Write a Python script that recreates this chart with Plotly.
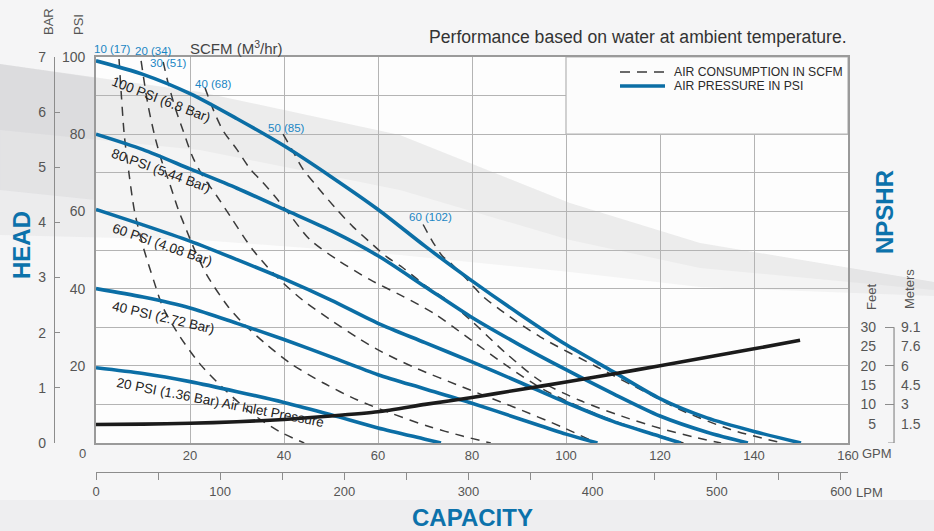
import plotly.graph_objects as go

# ---------------- data (GPM, PSI / feet) ----------------
gpm_ticks = [0, 20, 40, 60, 80, 100, 120, 140, 160]
psi_grid = [0, 10, 20, 30, 40, 50, 60, 70, 80, 90, 100]
psi_labels = ["", "", "20", "", "40", "", "60", "", "80", "", "100"]
bar_ticks = [0, 1, 2, 3, 4, 5, 6, 7]
lpm_ticks = [0, 100, 200, 300, 400, 500, 600]
lpm_minor = [50, 150, 250, 350, 450, 550]
feet_ticks = [5, 10, 15, 20, 25, 30]
meter_labels = ["1.5", "3", "4.5", "6", "7.6", "9.1"]
meter_mark_feet = [10, 20, 30]

# air pressure curves (GPM, PSI head)
p100_x = [0, 10, 20, 30, 40, 50, 60, 70, 80, 90, 100, 110, 120, 130, 140, 150]
p100_y = [99, 95.5, 90.5, 84, 77, 69, 60.5, 51, 42, 33.5, 25.5, 18.5, 11.5, 6.5, 3, 0]
p80_x = [0, 10, 20, 30, 40, 50, 60, 70, 80, 90, 100, 110, 120, 130, 138.7]
p80_y = [80, 76, 71, 66, 60.5, 55, 48.5, 40.5, 32.5, 25.5, 19, 12.8, 7, 2.8, 0]
p60_x = [0, 10, 20, 30, 40, 50, 60, 70, 80, 90, 100, 110, 120, 124.4]
p60_y = [60.5, 56.5, 52.3, 47.5, 42.5, 37, 31, 26, 21, 15.8, 10.5, 5.6, 1.7, 0]
p40_x = [0, 10, 20, 30, 40, 50, 60, 70, 80, 90, 100, 106.7]
p40_y = [40, 37.8, 35, 31, 26.8, 22.3, 17.7, 14, 10.3, 6.3, 2.3, 0]
p20_x = [0, 10, 20, 30, 40, 50, 60, 70, 73.4]
p20_y = [19.5, 18, 15.9, 13.3, 10.5, 7.3, 3.9, 1, 0]

pressure_names = ["100 PSI (6.8 Bar)", "80 PSI (5.44 Bar)", "60 PSI (4.08 Bar)",
                  "40 PSI (2.72 Bar)", "20 PSI (1.36 Bar) Air Inlet Pressure"]

# air consumption curves (SCFM)
s10_x = [4.9, 5.4, 6, 7, 8.2, 10, 12.3, 14.3, 17.9, 22.1, 27.5, 33, 39, 44.3]
s10_y = [99.5, 90, 80, 70, 60, 51, 42, 35, 27.5, 20.5, 13.7, 7.8, 3, 0]
s20_x = [9.6, 11, 12.5, 14, 15.6, 17.5, 19.3, 21, 23.6, 28, 31.3, 36, 41.3, 48.3, 55.5, 62.6, 71, 78, 84]
s20_y = [99, 88, 79.5, 73, 67.5, 60.5, 55, 50, 43.5, 35.5, 31, 25.8, 20.7, 15.6, 11.2, 7.8, 4.2, 1.8, 0]
s30_x = [14.3, 15.3, 16.8, 18.5, 20.6, 22.8, 25.7, 28.8, 33.4, 38.5, 44, 49.8, 56, 61, 67.5, 78, 88.7, 99.4, 106.5]
s30_y = [98.7, 93.5, 87, 81, 74, 69, 64, 58.3, 50, 43, 37, 32, 27, 23.5, 19.7, 14.5, 9.4, 4.0, 0]
s40_x = [23.2, 24.9, 27, 30, 32.8, 35.5, 38, 41.3, 45.5, 51.3, 58.3, 65.3, 72, 80, 88, 95, 103, 110, 118, 125]
s40_y = [92, 86.5, 81, 76, 71, 67.5, 64, 59, 52.7, 47.5, 42.3, 38, 33.5, 26.5, 19.5, 14, 9.3, 5.8, 2.6, 0]
s50_x = [39.8, 41.7, 44, 47, 51.2, 54.7, 58.3, 61.8, 65.3, 70.4, 74.7, 80, 87, 94.5, 103, 112, 120, 127, 133]
s50_y = [80, 76, 71, 66.5, 60.5, 56, 52, 48.3, 45.4, 40.5, 37, 31.5, 23.5, 16.1, 11, 6.9, 3.8, 1.6, 0]
s60_x = [69.6, 71.7, 73.8, 75.3, 78.9, 82.3, 86, 94.5, 106.6, 117.2, 124.3, 135, 146]
s60_y = [56.6, 52, 48.3, 46.8, 42.4, 38, 34.5, 27.5, 19.7, 13, 8.6, 3.5, 0]
scfm_labels = ["10 (17)", "20 (34)", "30 (51)", "40 (68)", "50 (85)", "60 (102)"]

# NPSHR (GPM, feet)
npshr_x = [0, 10, 20, 30, 40, 50, 60, 70, 80, 90, 100, 110, 120, 130, 140, 149.8]
npshr_y = [4.8, 4.9, 5.1, 5.5, 6.1, 7, 8.1, 10, 11.8, 13.8, 15.8, 17.9, 20, 22.2, 24.4, 26.6]

# ---------------- layout helpers (pixel -> paper) ----------------
W, H = 934, 531
PL, PR, PT, PB = 96, 848, 57, 443
ML, MR, MT, MB = 30, 30, 57, 40
pw, ph = W - ML - MR, H - MT - MB


def fx(x):
    return (x - ML) / pw


def fy(y):
    return (H - MB - y) / ph


FONT = "Liberation Sans, Arial, Helvetica, sans-serif"
BLUE = "#0b6ea5"
LBLUE = "#1a86c4"
TBLUE = "#0c72ab"
GRID = "#b4b4b4"
AX = "#8c8c8c"
TXT = "#555555"

fig = go.Figure()

# air consumption (dashed)
for xs, ys in [(s10_x, s10_y), (s20_x, s20_y), (s30_x, s30_y),
               (s40_x, s40_y), (s50_x, s50_y), (s60_x, s60_y)]:
    fig.add_trace(go.Scatter(x=xs, y=ys, mode="lines", showlegend=False, hoverinfo="skip",
                             line=dict(color="#3a3a3a", width=1.5, dash="9px,7px",
                                       shape="spline", smoothing=0.8)))

# air pressure (blue)
for xs, ys in [(p100_x, p100_y), (p80_x, p80_y), (p60_x, p60_y),
               (p40_x, p40_y), (p20_x, p20_y)]:
    fig.add_trace(go.Scatter(x=xs, y=ys, mode="lines", showlegend=False, hoverinfo="skip",
                             line=dict(color=BLUE, width=3.6, shape="spline", smoothing=0.8)))

# NPSHR on feet axis
fig.add_trace(go.Scatter(x=npshr_x, y=npshr_y, yaxis="y3", mode="lines", showlegend=False,
                         hoverinfo="skip",
                         line=dict(color="#1b1b1b", width=3.6, shape="spline", smoothing=0.6)))

# empty traces so the secondary scales get drawn
fig.add_trace(go.Scatter(x=[None], y=[None], yaxis="y2", showlegend=False, hoverinfo="skip"))
fig.add_trace(go.Scatter(x=[None], y=[None], yaxis="y4", showlegend=False, hoverinfo="skip"))
fig.add_trace(go.Scatter(x=[None], y=[None], xaxis="x2", showlegend=False, hoverinfo="skip"))

shapes = []


def poly(pts):
    return "M " + " L ".join(f"{fx(a):.4f},{fy(b):.4f}" for a, b in pts) + " Z"


# background swoosh (decoration)
swoosh_up = [(0, 64), (200, 92), (400, 135), (570, 203), (700, 243), (934, 282)]
shapes.append(dict(type="path", xref="paper", yref="paper", layer="below",
                   path=poly(swoosh_up + [(934, 296), (700, 287), (570, 272), (400, 255), (200, 240), (0, 235)]),
                   fillcolor="rgba(150,150,156,0.09)", line=dict(width=0)))
shapes.append(dict(type="path", xref="paper", yref="paper", layer="below",
                   path=poly(swoosh_up + [(934, 290), (700, 268), (570, 240), (400, 190), (200, 150), (0, 130)]),
                   fillcolor="rgba(150,150,156,0.08)", line=dict(width=0)))
shapes.append(dict(type="path", xref="paper", yref="paper", layer="below",
                   path=poly([(0, 64), (96, 78), (96, 200), (0, 190)]),
                   fillcolor="rgba(150,150,156,0.10)", line=dict(width=0)))
shapes.append(dict(type="rect", xref="paper", yref="paper", layer="below",
                   x0=fx(0), x1=fx(W), y0=fy(H), y1=fy(500),
                   fillcolor="rgba(170,172,178,0.08)", line=dict(width=0)))

# legend box (covers grid)
shapes.append(dict(type="rect", xref="x", yref="y", layer="between", x0=100, x1=160, y0=80, y1=100,
                   fillcolor="#fcfcfc", line=dict(color=GRID, width=1.2)))
# legend samples
shapes.append(dict(type="line", xref="paper", yref="paper", x0=fx(620), x1=fx(665), y0=fy(72), y1=fy(72),
                   line=dict(color="#3a3a3a", width=1.6, dash="10px,7px")))
shapes.append(dict(type="line", xref="paper", yref="paper", x0=fx(620), x1=fx(665), y0=fy(86), y1=fy(86),
                   line=dict(color=BLUE, width=3.6)))
# NPSHR bracket
shapes.append(dict(type="path", xref="paper", yref="y3",
                   path=f"M {fx(894):.4f},{feet_ticks[-1]} L {fx(894):.4f},0 L {fx(888):.4f},0",
                   line=dict(color=AX, width=1.2)))

ann = []


def txt(x, y, s, size=13, color=TXT, xanchor="center", angle=0, bold=False, xref="paper", yref="paper"):
    if bold:
        s = "<b>" + s + "</b>"
    ann.append(dict(x=x, y=y, xref=xref, yref=yref, text=s, showarrow=False, textangle=angle,
                    xanchor=xanchor, yanchor="middle", font=dict(family=FONT, size=size, color=color)))


txt(fx(427), fy(37), "Performance based on water at ambient temperature.", 17.6, "#333333", "left")
txt(fx(236), fy(48), "SCFM (M<sup>3</sup>/hr)", 15, "#444444")
txt(fx(48), fy(22), "BAR", 13, TXT, angle=-90)
txt(fx(78), fy(25), "PSI", 13, TXT, angle=-90)
txt(fx(21), fy(245), "HEAD", 24, TBLUE, angle=-90, bold=True)
txt(fx(885), fy(212), "NPSHR", 24, TBLUE, angle=-90, bold=True)
txt(fx(472), fy(517), "CAPACITY", 24, TBLUE, bold=True)
txt(fx(871), fy(297), "Feet", 13, TXT, angle=-90)
txt(fx(909), fy(289), "Meters", 13, TXT, angle=-90)
txt(fx(82), fy(453), "0", 13, TXT)
txt(fx(860), fy(453), "GPM", 13, TXT, "left")
txt(fx(854), fy(492), "LPM", 13, TXT, "left")
txt(fx(672), fy(72), "AIR CONSUMPTION IN SCFM", 12.2, "#2b2b2b", "left")
txt(fx(672), fy(86), "AIR PRESSURE IN PSI", 12.2, "#2b2b2b", "left")

# SCFM labels: x on the GPM scale, y as page position (some sit above the frame)
for (gx, py_), s in zip([(3.6, 49), (12.3, 51), (15.4, 63), (24.9, 84), (40.6, 128), (71.1, 217)],
                        scfm_labels):
    txt(gx, fy(py_), s, 11.5, LBLUE, xref="x", yref="paper")

# pressure curve labels
for (gx, gy, a), s in zip([(13.8, 89.0, 21), (13.8, 70.6, 20), (14.0, 51.3, 19), (14.3, 32.4, 13), (26.4, 10.6, 11)],
                          pressure_names):
    txt(gx, gy, s, 13.5, "#222222", angle=a, xref="x", yref="y")

fig.update_layout(
    width=W, height=H, margin=dict(l=ML, r=MR, t=MT, b=MB, autoexpand=False),
    paper_bgcolor="#f5f5f6", plot_bgcolor="#fdfdfd",
    font=dict(family=FONT, size=13, color=TXT),
    showlegend=False, shapes=shapes, annotations=ann,
    xaxis=dict(domain=[fx(PL), fx(PR)], range=[0, 160], tickvals=gpm_ticks,
               ticktext=[""] + [str(v) for v in gpm_ticks[1:]], ticks="",
               showgrid=True, gridcolor=GRID, gridwidth=1.2, zeroline=False,
               showline=True, linecolor="#9a9a9a", linewidth=1.6, mirror=True,
               tickfont=dict(size=13, color=TXT), automargin=False, fixedrange=True),
    yaxis=dict(domain=[fy(PB), fy(PT)], range=[0, 100], tickvals=psi_grid, ticktext=psi_labels,
               ticks="", showgrid=True, gridcolor=GRID, gridwidth=1.2, zeroline=False,
               showline=True, linecolor="#9a9a9a", linewidth=1.6, mirror=True,
               ticklabelstandoff=6, tickfont=dict(size=14, color=TXT), automargin=False),
    xaxis2=dict(overlaying="x", anchor="free", position=fy(472), side="bottom",
                range=[0, 160 * 3.78541], tickvals=lpm_ticks,
                ticktext=[str(v) for v in lpm_ticks], ticks="outside", ticklen=7, tickcolor=AX,
                minor=dict(tickvals=lpm_minor, ticks="outside", ticklen=7, tickcolor=AX),
                showline=True, linecolor=AX, linewidth=1.2, showgrid=False, zeroline=False,
                tickfont=dict(size=13, color=TXT), automargin=False),
    yaxis2=dict(overlaying="y", anchor="free", position=fx(54), side="left",
                range=[0, 7], tickvals=bar_ticks, ticks="inside", ticklen=5, tickcolor=AX,
                showline=True, linecolor=AX, linewidth=1.2, showgrid=False, zeroline=False,
                ticklabelstandoff=5, tickfont=dict(size=14, color=TXT), automargin=False),
    yaxis3=dict(overlaying="y", anchor="free", position=fx(876), side="left",
                range=[0, 100], tickvals=feet_ticks, ticks="", showline=False,
                showgrid=False, zeroline=False, tickfont=dict(size=14, color=TXT), automargin=False),
    yaxis4=dict(overlaying="y", anchor="free", position=fx(894), side="right",
                range=[0, 100 * 0.3048], tickvals=[f * 0.3048 for f in feet_ticks],
                ticktext=meter_labels, ticks="", showline=False, showgrid=False, zeroline=False,
                minor=dict(tickvals=[f * 0.3048 for f in meter_mark_feet], ticks="inside",
                           ticklen=9, tickcolor=AX, tickwidth=1.2),
                ticklabelstandoff=6, tickfont=dict(size=14, color=TXT), automargin=False),
)

fig.write_html("out.html", config={"displayModeBar": False},
               post_script="document.body.style.margin='0';document.body.style.overflow='hidden';")
